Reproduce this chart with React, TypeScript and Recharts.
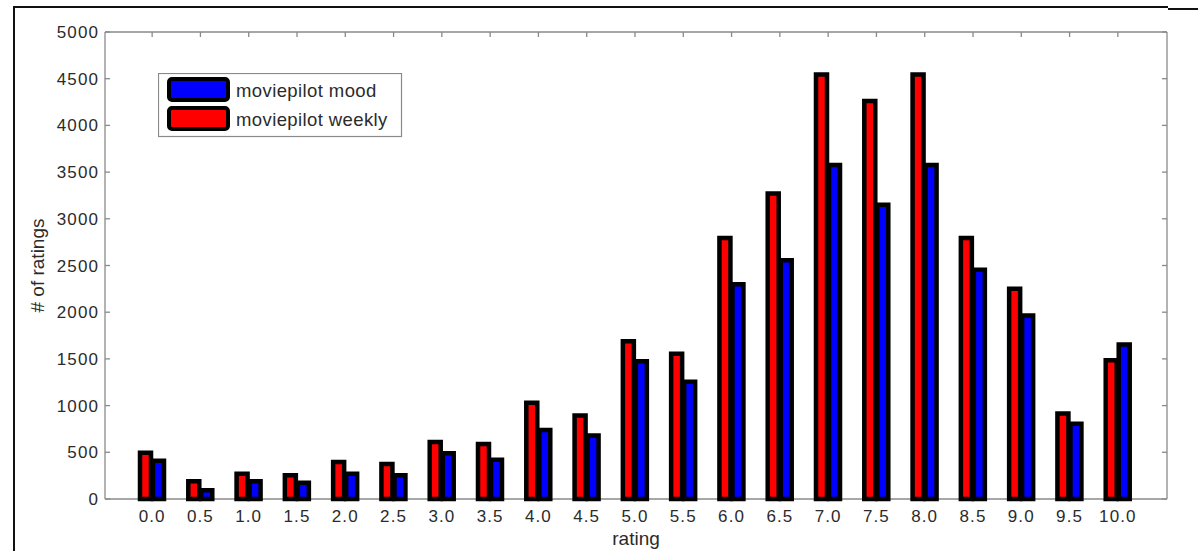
import { Bar, BarChart, CartesianGrid, Label, Legend, XAxis, YAxis } from "recharts";

const ratings = [
  "0.0", "0.5", "1.0", "1.5", "2.0", "2.5", "3.0", "3.5", "4.0", "4.5", "5.0",
  "5.5", "6.0", "6.5", "7.0", "7.5", "8.0", "8.5", "9.0", "9.5", "10.0",
];
const weekly = [
  495, 190, 270, 255, 395, 375, 610, 590, 1030, 895, 1690,
  1555, 2795, 3270, 4545, 4260, 4545, 2795, 2250, 915, 1485,
];
const mood = [
  410, 95, 190, 175, 270, 255, 490, 420, 740, 680, 1475,
  1255, 2300, 2555, 3575, 3150, 3575, 2455, 1965, 805, 1655,
];
const yTicks = [0, 500, 1000, 1500, 2000, 2500, 3000, 3500, 4000, 4500, 5000];

const legendItems = [
  { name: "moviepilot mood", color: "#0000FF" },
  { name: "moviepilot weekly", color: "#FF0000" },
];

const data = ratings.map((r, i) => ({ rating: r, weekly: weekly[i], mood: mood[i] }));

const FONT = "'Liberation Sans', Arial, sans-serif";
const AXIS = "#8a8a8a";
const TEXT = "#2b2b2b";
const PAD = { left: 23, right: 25 };

// tick marks only, no labels
const NoLabel = () => <g />;

function LegendBox() {
  return (
    <svg width={245} height={65} style={{ display: "block" }}>
      <rect x={0.5} y={0.5} width={243} height={63} fill="#fff" stroke={AXIS} strokeWidth={1.2} />
      {legendItems.map((it, i) => (
        <g key={it.name}>
          <rect
            x={11}
            y={6 + i * 29}
            width={59}
            height={21}
            rx={3}
            fill={it.color}
            stroke="#000"
            strokeWidth={4}
          />
          <text
            x={78}
            y={24 + i * 28.5}
            fontSize={18.5}
            fill={TEXT}
            fontFamily={FONT}
            letterSpacing={0.4}
          >
            {it.name}
          </text>
        </g>
      ))}
    </svg>
  );
}

export default function App() {
  return (
    <div style={{ position: "absolute", left: 0, top: 0, width: 1198, height: 551, background: "#fff" }}>
      <div style={{ position: "absolute", left: 13, top: 6, width: 1155, height: 2, background: "#111" }} />
      <div style={{ position: "absolute", left: 1168, top: 8, width: 30, height: 2, background: "#111" }} />
      <div style={{ position: "absolute", left: 13, top: 6, width: 2, height: 545, background: "#111" }} />
      <BarChart
        width={1198}
        height={551}
        data={data}
        margin={{ top: 32, right: 31, bottom: 22, left: 45 }}
        barSize={11}
        barGap={2}
        style={{ fontFamily: FONT }}
      >
        <CartesianGrid vertical={false} horizontalValues={[0]} stroke={AXIS} strokeWidth={1.3} />
        <XAxis
          dataKey="rating"
          height={30}
          padding={PAD}
          axisLine={false}
          tickLine={false}
          tickSize={0}
          tickMargin={11}
          interval={0}
          tick={{ fill: TEXT, fontSize: 17, letterSpacing: 1.1 }}
        >
          <Label value="rating" position="bottom" offset={3} fill={TEXT} fontSize={19} />
        </XAxis>
        <XAxis
          xAxisId="top"
          dataKey="rating"
          orientation="top"
          mirror
          height={1}
          padding={PAD}
          stroke={AXIS}
          strokeWidth={1.3}
          tick={NoLabel}
          tickLine={{ stroke: AXIS, strokeWidth: 1.3 }}
          tickSize={5}
          interval={0}
        />
        <YAxis
          type="number"
          domain={[0, 5000]}
          ticks={yTicks}
          width={60}
          stroke={AXIS}
          strokeWidth={1.3}
          tickLine={false}
          tickSize={0}
          tickMargin={6}
          interval={0}
          tick={{ fill: TEXT, fontSize: 17, letterSpacing: 1.1 }}
        >
          <Label value="# of ratings" angle={-90} position="center" dx={-38} fill={TEXT} fontSize={19} />
        </YAxis>
        <YAxis
          yAxisId="leftTicks"
          orientation="left"
          mirror
          type="number"
          domain={[0, 5000]}
          ticks={yTicks}
          allowDataOverflow
          width={1}
          axisLine={false}
          stroke={AXIS}
          strokeWidth={1.3}
          tick={NoLabel}
          tickLine={{ stroke: AXIS, strokeWidth: 1.3 }}
          tickSize={5}
          interval={0}
        />
        <YAxis
          yAxisId="right"
          orientation="right"
          mirror
          type="number"
          domain={[0, 5000]}
          ticks={yTicks}
          allowDataOverflow
          width={1}
          stroke={AXIS}
          strokeWidth={1.3}
          tick={NoLabel}
          tickLine={{ stroke: AXIS, strokeWidth: 1.3 }}
          tickSize={5}
          interval={0}
        />
        <Legend
          layout="vertical"
          align="center"
          verticalAlign="middle"
          wrapperStyle={{ left: 158, top: 73, width: 245, height: 65 }}
          content={() => <LegendBox />}
        />
        <Bar
          dataKey="weekly"
          name="moviepilot weekly"
          fill="#FF0000"
          stroke="#000"
          strokeWidth={4.5}
          isAnimationActive={false}
        />
        <Bar
          dataKey="mood"
          name="moviepilot mood"
          fill="#0000FF"
          stroke="#000"
          strokeWidth={4.5}
          isAnimationActive={false}
        />
      </BarChart>
    </div>
  );
}
